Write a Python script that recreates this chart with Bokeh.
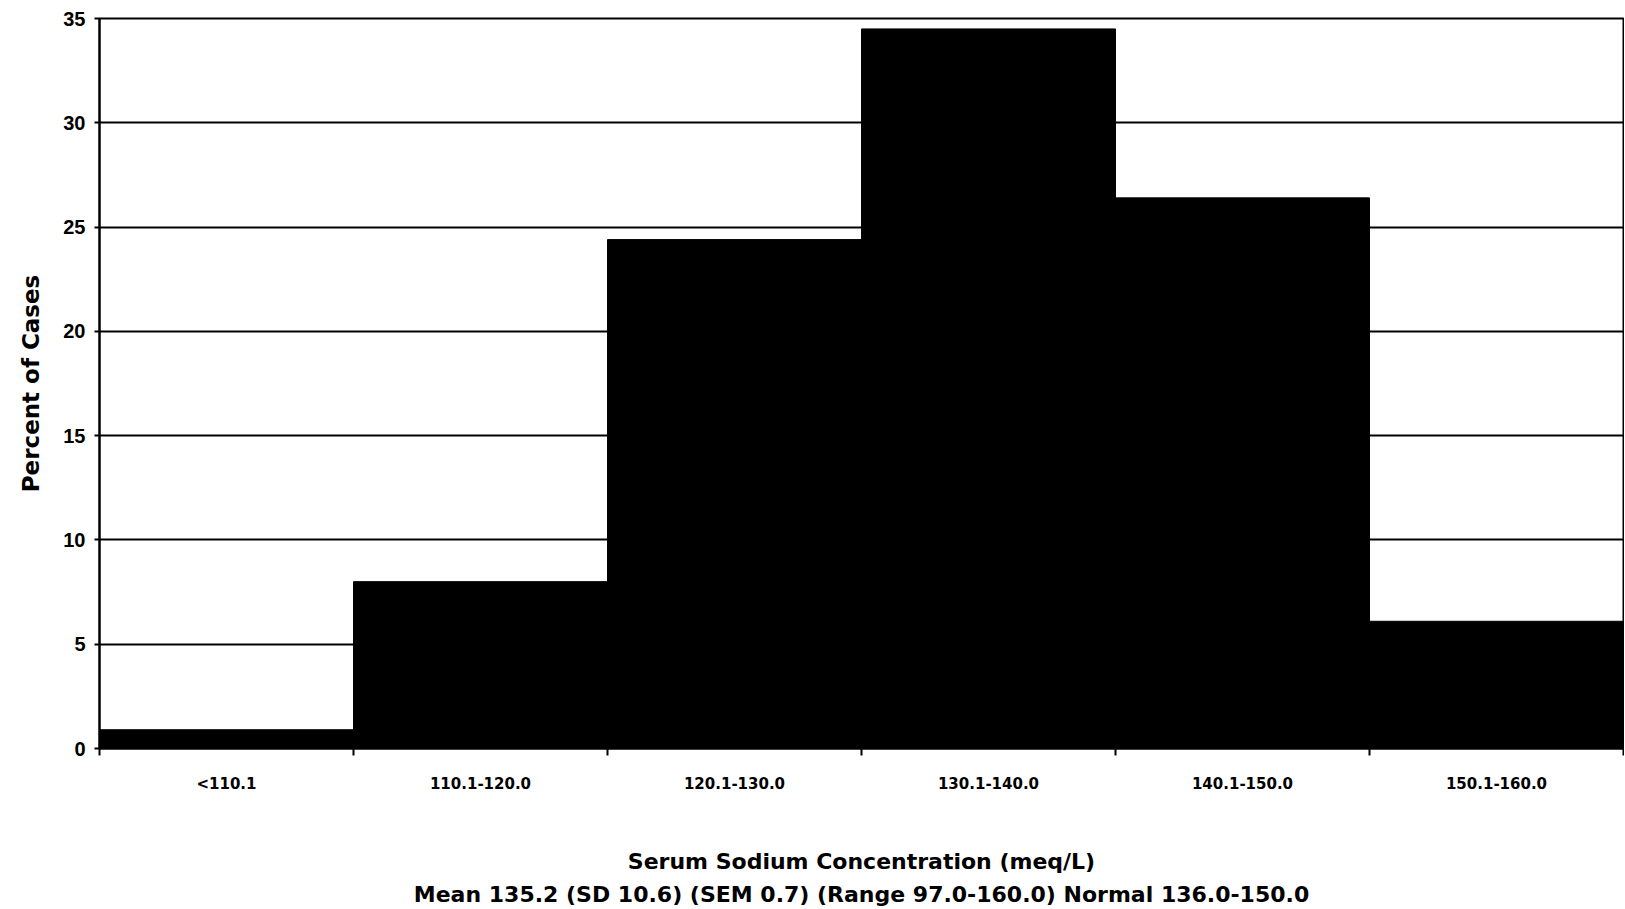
from bokeh.plotting import figure
from bokeh.models import Range1d, FixedTicker, LinearAxis
from bokeh.embed import file_html
from bokeh.resources import INLINE

categories = ["<110.1", "110.1-120.0", "120.1-130.0", "130.1-140.0", "140.1-150.0", "150.1-160.0"]
percent = [0.9, 8.0, 24.4, 34.5, 26.4, 6.1]
y_ticks = [0, 5, 10, 15, 20, 25, 30, 35]
x_title = "Serum Sodium Concentration (meq/L)\nMean 135.2 (SD 10.6) (SEM 0.7) (Range 97.0-160.0) Normal 136.0-150.0"

centers = [i + 0.5 for i in range(len(categories))]
bounds = list(range(len(categories) + 1))

p = figure(width=1624, height=909, output_backend="svg", toolbar_location=None,
           x_range=Range1d(0, len(categories)), y_range=Range1d(0, 35),
           x_axis_location=None, min_border_left=99, min_border_right=1,
           min_border_top=18, min_border_bottom=159)
p.background_fill_color = "white"
p.border_fill_color = "white"
p.outline_line_color = "black"
p.outline_line_width = 2

p.vbar(x=centers, top=percent, width=1.0, bottom=0,
       fill_color="black", line_color="black", line_width=1)

p.xgrid.visible = False
p.ygrid.ticker = FixedTicker(ticks=y_ticks)
p.ygrid.grid_line_color = "black"
p.ygrid.grid_line_width = 2

ya = p.yaxis[0]
ya.ticker = FixedTicker(ticks=y_ticks)
ya.axis_line_color = "black"
ya.axis_line_width = 2
ya.major_tick_in = 0
ya.major_tick_out = 5
ya.major_tick_line_width = 2
ya.minor_tick_line_color = None
ya.major_label_text_font = "Liberation Sans"
ya.major_label_text_font_style = "bold"
ya.major_label_text_font_size = "20px"
ya.major_label_text_color = "black"
ya.major_label_standoff = 9
ya.axis_label = "Percent of Cases"
ya.axis_label_text_font = "DejaVu Sans"
ya.axis_label_text_font_style = "bold"
ya.axis_label_text_font_size = "23px"
ya.axis_label_text_color = "black"
ya.axis_label_standoff = 16

xa = LinearAxis(ticker=FixedTicker(ticks=centers, minor_ticks=bounds),
                major_label_overrides={c: lab for c, lab in zip(centers, categories)})
xa.axis_line_color = "black"
xa.axis_line_width = 2
xa.major_tick_in = 0
xa.major_tick_out = 0
xa.minor_tick_in = 0
xa.minor_tick_out = 7
xa.minor_tick_line_color = "black"
xa.minor_tick_line_width = 2
xa.major_label_text_font = "DejaVu Sans"
xa.major_label_text_font_style = "bold"
xa.major_label_text_font_size = "15px"
xa.major_label_text_color = "black"
xa.major_label_standoff = 19
xa.axis_label = x_title
xa.axis_label_text_font = "DejaVu Sans"
xa.axis_label_text_font_style = "bold"
xa.axis_label_text_font_size = "22px"
xa.axis_label_text_color = "black"
xa.axis_label_text_line_height = 1.32
xa.axis_label_standoff = 53
p.add_layout(xa, "below")

open("out.html", "w").write(file_html(p, INLINE))
